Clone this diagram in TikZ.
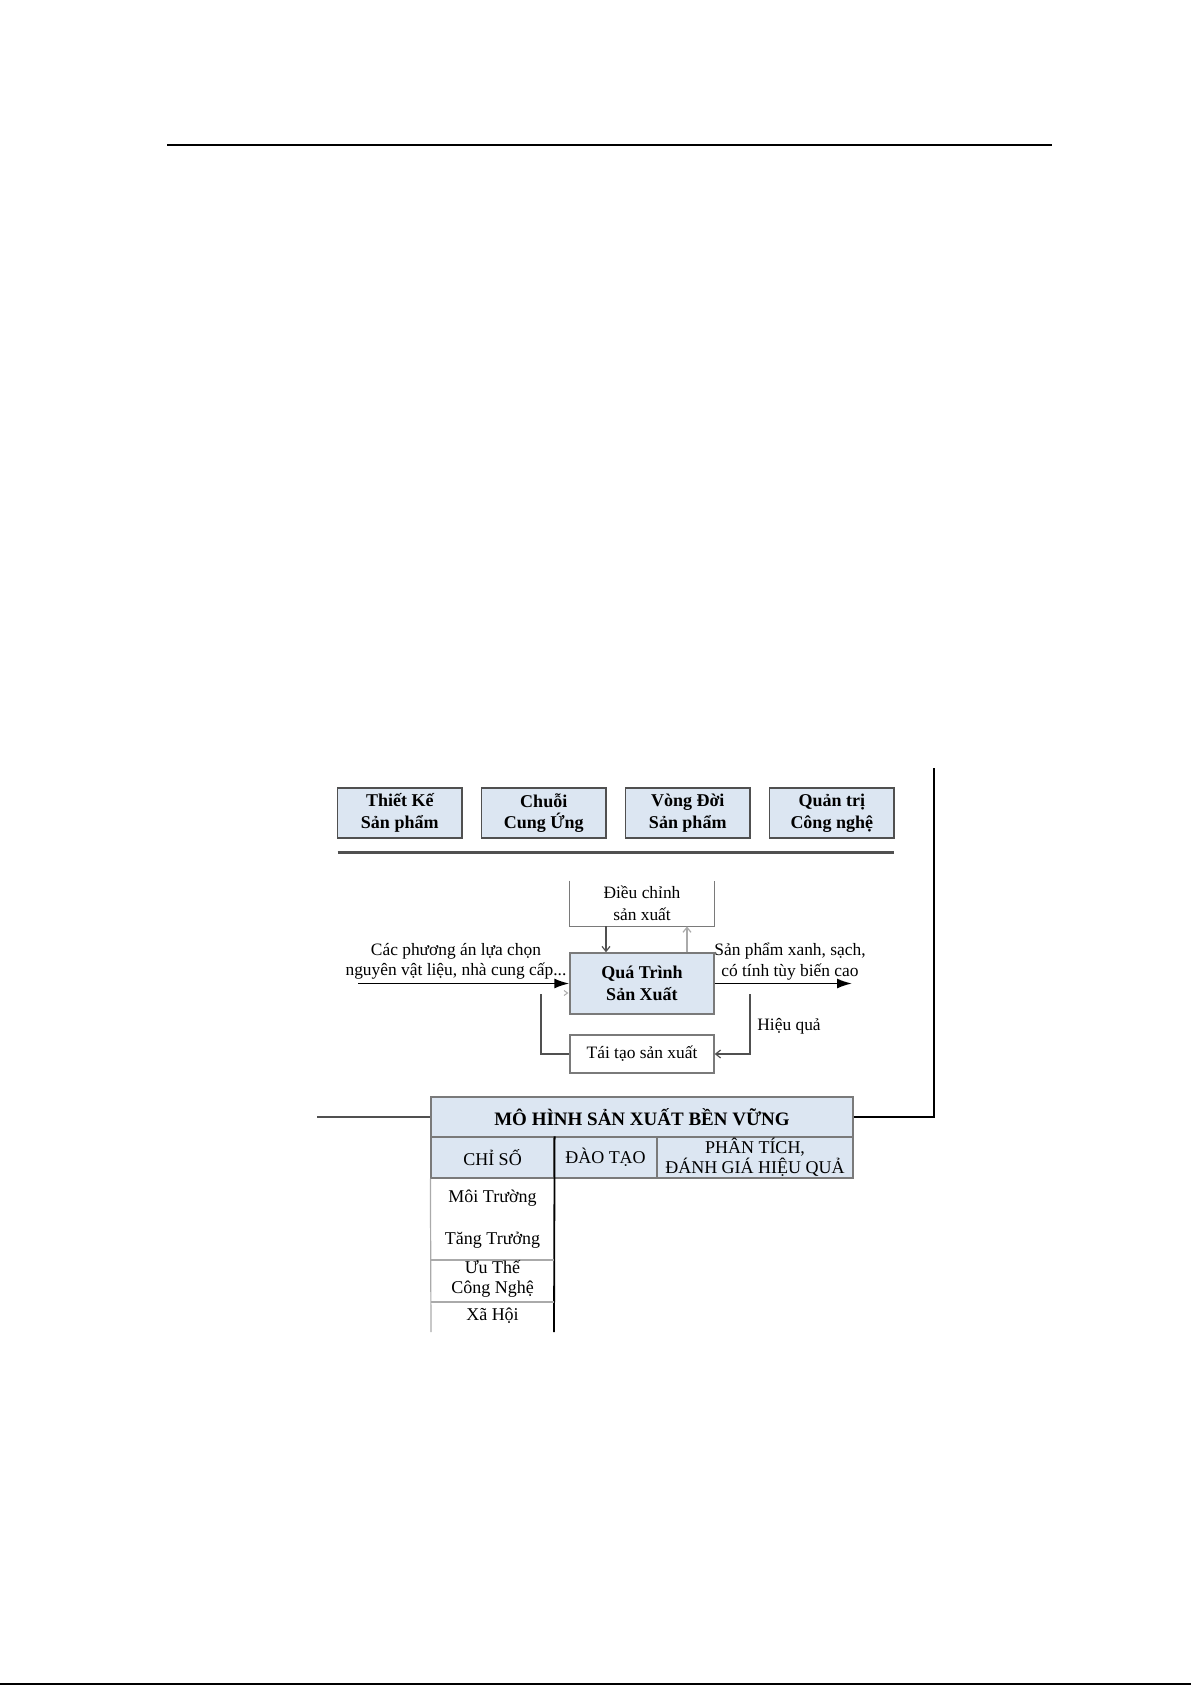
\documentclass[tikz,border=0pt]{standalone}
\usepackage{fontspec}
\setmainfont{Liberation Serif}
\usetikzlibrary{arrows.meta}
\definecolor{boxblue}{HTML}{DCE6F2}
\definecolor{edge}{HTML}{505050}
\definecolor{midedge}{HTML}{7A7A7A}
\definecolor{lightedge}{HTML}{AAAAAA}
\begin{document}
\begin{tikzpicture}[x=0.5pt,y=-0.5pt,
  topbox/.style={draw=edge, line width=0.8pt, fill=boxblue, minimum width=62.25pt, minimum height=25pt, inner sep=0pt, align=center, font=\fontsize{9}{10.75}\selectfont\bfseries},
  procbox/.style={minimum width=72pt, inner sep=0pt, align=center},
  lbl/.style={inner sep=0pt, align=center, font=\fontsize{8.7}{10.2}\selectfont},
  cell/.style={inner sep=0pt, align=center, font=\fontsize{9}{10.2}\selectfont},
  flowarrow/.style={line width=0.9pt, -{Latex[length=7.5pt,width=5pt]}},
  smallarrow/.style={line width=0.6pt, -{Straight Barb[length=2.5pt,width=4pt]}},
]
\useasboundingbox (0,0) rectangle (1191,1685);

% page rules
\coordinate (rtl) at (167,145);
\coordinate (rtr) at (1052,145);
\draw[line width=1pt] (rtl) -- (rtr);
\coordinate (rbl) at (0,1684);
\coordinate (rbr) at (1191,1684);
\draw[line width=1pt] (rbl) -- (rbr);

% top boxes
\node[topbox] (b1) at (399.75,813) {Thiết Kế\\Sản phẩm};
\node[topbox] (b2) at (543.75,813) {Chuỗi\\Cung Ứng};
\node[topbox] (b3) at (687.75,813) {Vòng Đời\\Sản phẩm};
\node[topbox] (b4) at (831.75,813) {Quản trị\\Công nghệ};
\coordinate (sepl) at (337.5,852.5);
\coordinate (sepr) at (894,852.5);
\draw[line width=1.5pt, edge] (sepl) -- (sepr);

% process part
\node[procbox, minimum height=22.5pt, font=\fontsize{8.7}{10.75}\selectfont] (dc) at (642,903.5) {Điều chỉnh\\sản xuất};
\draw[midedge, line width=0.7pt] (dc.north west) -- (dc.south west) -- (dc.south east) -- (dc.north east);
\node[procbox, minimum height=30.5pt, draw=midedge, line width=0.7pt, fill=boxblue, font=\fontsize{9}{10.75}\selectfont\bfseries] (qt) at (642,983.5) {Quá Trình\\Sản Xuất};
\node[procbox, minimum height=19pt, draw=midedge, line width=0.7pt, font=\fontsize{8.7}{10.2}\selectfont] (tt) at (642,1054) {Tái tạo sản xuất};

\coordinate (xd) at (606,0);
\coordinate (xu) at (687,0);
\draw[smallarrow, edge] (dc.south -| xd) -- (qt.north -| xd);
\draw[smallarrow, lightedge] (qt.north -| xu) -- (dc.south -| xu);

\coordinate (inl) at (358,983.5);
\coordinate (outr) at (852,983.5);
\draw[flowarrow] (inl) -- (qt.west);
\draw[flowarrow] (qt.east) -- (outr);
\node[lbl] (intext) at (456,961.5) {Các phương án lựa chọn\\nguyên vật liệu, nhà cung cấp...};
\node[lbl] (outtext) at (790,961.5) {Sản phẩm xanh, sạch,\\có tính tùy biến cao};

\coordinate (fbl) at (541,994);
\coordinate (fbr) at (750,994);
\draw[edge, line width=0.7pt] (tt.west) -| (fbl);
\draw[smallarrow, edge] (fbr) |- (tt.east);
\node[lbl, anchor=west] (hq) at (757,1026) {Hiệu quả};
\draw[lightedge, line width=0.5pt] (564,990.5) -- (567.5,993) -- (564,995.5);

% table
\node[draw=midedge, line width=0.6pt, fill=boxblue, minimum width=211pt, minimum height=20pt, inner sep=0pt, font=\fontsize{9.5}{11}\selectfont\bfseries] (title) at (642,1117) {MÔ HÌNH SẢN XUẤT BỀN VỮNG};
\node[draw=midedge, line width=0.6pt, fill=boxblue, minimum width=61.5pt, minimum height=20.5pt, cell] (chiso) at (492.5,1157.5) {CHỈ SỐ};
\node[draw=midedge, line width=0.6pt, fill=boxblue, minimum width=51.5pt, minimum height=20.5pt, cell] (daotao) at (605.5,1157.5) {ĐÀO TẠO};
\node[draw=midedge, line width=0.6pt, fill=boxblue, minimum width=98pt, minimum height=20.5pt, cell] (pt) at (755,1157.5) {PHÂN TÍCH,\\ĐÁNH GIÁ HIỆU QUẢ};

\coordinate (colbl) at (431,1332);
\coordinate (colbr) at (554,1332);
\draw[lightedge, line width=0.6pt] (chiso.south west) -- (colbl);
\draw[black, line width=0.9pt] (chiso.north east) -- (colbr);
\coordinate (s1l) at (431,1260);
\coordinate (s1r) at (554,1260);
\coordinate (s2l) at (431,1302);
\coordinate (s2r) at (554,1302);
\draw[lightedge, line width=0.6pt] (s1l) -- (s1r);
\draw[lightedge, line width=0.6pt] (s2l) -- (s2r);
\node[cell] (mt) at (492.5,1198) {Môi Trường};
\node[cell] (tg) at (492.5,1240) {Tăng Trưởng};
\node[cell] (ut) at (492.5,1279) {Ưu Thế\\Công Nghệ};
\node[cell] (xh) at (492.5,1316) {Xã Hội};

\coordinate (ll) at (317,1117);
\coordinate (rc) at (934,1117);
\coordinate (rt) at (934,768);
\draw[edge, line width=0.8pt] (ll) -- (title.west);
\draw[black, line width=1pt] (title.east) -- (rc) -- (rt);
\end{tikzpicture}
\end{document}
